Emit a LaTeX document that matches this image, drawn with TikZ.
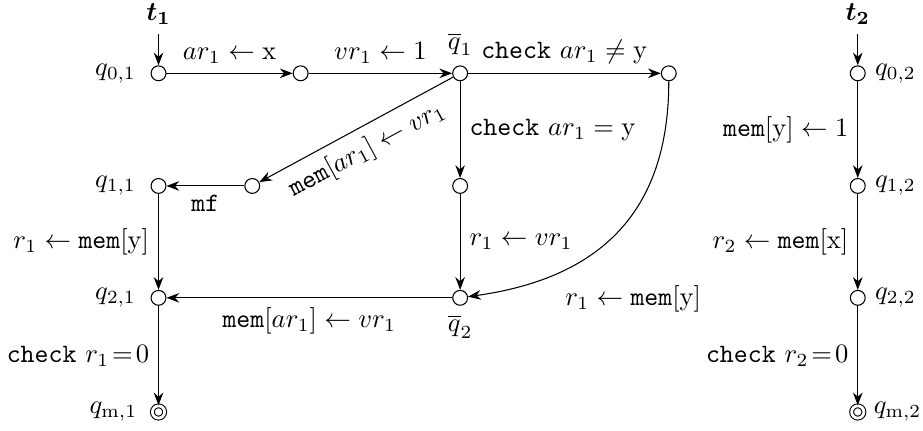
\documentclass[tikz,border=0pt]{standalone}
\usepackage{amsmath}
\usepackage{amssymb}
\usetikzlibrary{arrows.meta, positioning}

\begin{document}
\begin{tikzpicture}[>={Stealth}, state_node/.style={draw,circle,minimum size=5.6pt,inner sep=0pt}, final_node/.style={draw,circle,double,double distance=1.05pt,minimum size=4.6pt,inner sep=0pt}]
\useasboundingbox (-2.097,0.97) rectangle (10.113,-4.73);

\node (t1) at (0,0.78) {$\boldsymbol{t_1}$};
\node (t2) at (9.25,0.78) {$\boldsymbol{t_2}$};

\node[state_node, label={[label distance=2pt]left:$q_{0,1}$}] (q01) at (0,0) {};
\node[state_node] (a) at (1.88,0) {};
\node[state_node, label=above:$\overline{q}_1$] (qb1) at (3.99,0) {};
\node[state_node] (b) at (6.75,0) {};
\node[state_node, label=right:$q_{0,2}$] (q02) at (9.25,0) {};

\node[state_node, label={[label distance=2pt]left:$q_{1,1}$}] (q11) at (0,-1.49) {};
\node[state_node] (m) at (1.24,-1.49) {};
\node[state_node] (c) at (3.99,-1.49) {};
\node[state_node, label=right:$q_{1,2}$] (q12) at (9.25,-1.49) {};

\node[state_node, label={[label distance=2pt]left:$q_{2,1}$}] (q21) at (0,-2.97) {};
\node[state_node, label=below:$\overline{q}_2$] (qb2) at (3.99,-2.97) {};
\node[state_node, label=right:$q_{2,2}$] (q22) at (9.25,-2.97) {};

\node[final_node, label={[label distance=2pt]left:$q_{\mathrm{m},1}$}] (qm1) at (0,-4.48) {};
\node[final_node, label=right:$q_{\mathrm{m},2}$] (qm2) at (9.25,-4.48) {};


\path[->] (t1) edge (q01) (t2) edge (q02);

\path[->]
\foreach \i/\j/\p/\l in {q01/a/above/{$ar_1 \leftarrow \mathrm{x}$}, a/qb1/above/{$vr_1 \leftarrow 1$}, qb1/b/above/{\texttt{check} $ar_1 \neq \mathrm{y}$}, qb1/c/right/{\texttt{check} $ar_1 = \mathrm{y}$}, m/q11/below/{\texttt{mf}}, q11/q21/left/{$r_1 \leftarrow \texttt{mem}[\mathrm{y}]$}, c/qb2/right/{$r_1 \leftarrow vr_1$}, qb2/q21/below/{$\texttt{mem}[ar_1] \leftarrow vr_1$}, q21/qm1/left/{\texttt{check} $r_1\!=\!0$}}{(\i) edge node[\p] {\l} (\j) }
\foreach \i/\j/\p/\l in {q02/q12/left/{$\texttt{mem}[\mathrm{y}] \leftarrow 1$}, q12/q22/left/{$r_2 \leftarrow \texttt{mem}[\mathrm{x}]$}, q22/qm2/left/{\texttt{check} $r_2\!=\!0$}}{(\i) edge node[\p] {\l} (\j) };

\path[->] (qb1) edge node[sloped, below] {$\texttt{mem}[ar_1] \leftarrow vr_1$} (m);
\path[->] (b) edge[out=-90, in=8, looseness=1.15] node[pos=0.75, below right=1pt and 0.5pt] {$r_1 \leftarrow \texttt{mem}[\mathrm{y}]$} (qb2);

\end{tikzpicture}
\end{document}
